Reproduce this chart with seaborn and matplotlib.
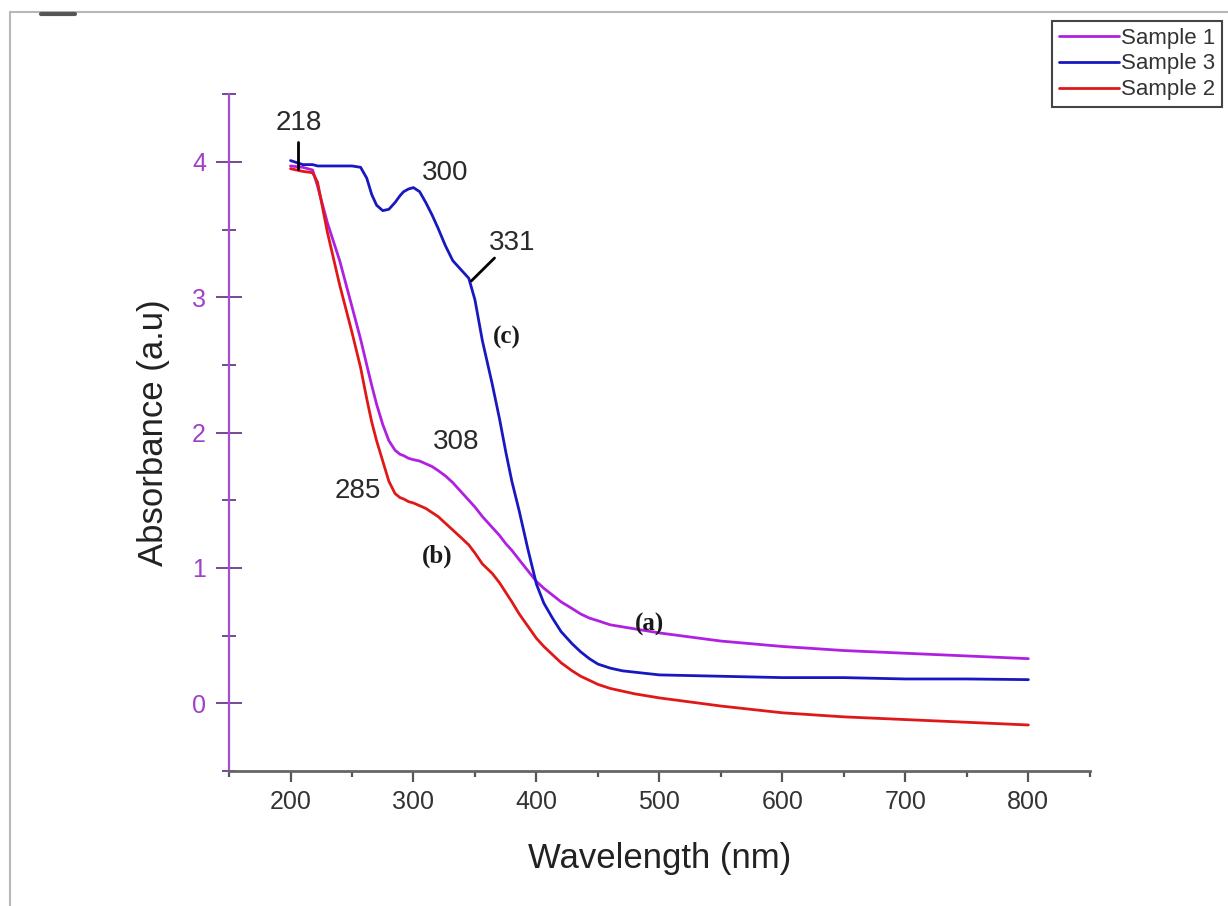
import matplotlib
matplotlib.use('Agg')
import matplotlib.pyplot as plt
import matplotlib.lines as mlines
import pandas as pd
import seaborn as sns
from matplotlib.ticker import MultipleLocator

sns.set_style('ticks')
plt.rcParams['font.family'] = ['Liberation Sans', 'DejaVu Sans']

# Values
wavelength = [200, 210, 218, 222, 230, 240, 250, 257, 262, 266, 270, 275, 280, 285, 289,
              292, 296, 300, 305, 310, 315, 320, 326, 332, 338, 345, 350, 356, 364, 370,
              375, 380, 386, 393, 400, 406, 413, 420, 429, 436, 443, 450, 460, 470, 480,
              490, 500, 525, 550, 575, 600, 650, 700, 750, 800]
sample1 = [3.97, 3.96, 3.94, 3.82, 3.55, 3.27, 2.93, 2.69, 2.50, 2.35, 2.21, 2.06, 1.94, 1.87, 1.84,
           1.83, 1.81, 1.80, 1.79, 1.77, 1.75, 1.72, 1.68, 1.63, 1.57, 1.50, 1.45, 1.38, 1.30, 1.24,
           1.18, 1.13, 1.06, 0.98, 0.90, 0.85, 0.80, 0.75, 0.70, 0.66, 0.63, 0.61, 0.58, 0.565, 0.55,
           0.535, 0.52, 0.49, 0.46, 0.44, 0.42, 0.39, 0.37, 0.35, 0.33]
sample3 = [4.01, 3.98, 3.98, 3.97, 3.97, 3.97, 3.97, 3.96, 3.88, 3.76, 3.68, 3.64, 3.65, 3.70, 3.75,
           3.78, 3.80, 3.81, 3.78, 3.70, 3.61, 3.51, 3.38, 3.27, 3.21, 3.14, 2.98, 2.68, 2.36, 2.10,
           1.86, 1.64, 1.42, 1.14, 0.88, 0.74, 0.63, 0.53, 0.44, 0.38, 0.33, 0.29, 0.26, 0.24, 0.23,
           0.22, 0.21, 0.205, 0.20, 0.195, 0.19, 0.19, 0.18, 0.18, 0.175]
sample2 = [3.95, 3.93, 3.92, 3.85, 3.48, 3.09, 2.74, 2.48, 2.25, 2.08, 1.94, 1.79, 1.64, 1.55, 1.52,
           1.51, 1.49, 1.48, 1.46, 1.44, 1.41, 1.38, 1.33, 1.28, 1.23, 1.17, 1.11, 1.03, 0.96, 0.89,
           0.82, 0.75, 0.66, 0.57, 0.48, 0.42, 0.36, 0.30, 0.24, 0.20, 0.17, 0.14, 0.11, 0.09, 0.07,
           0.055, 0.04, 0.01, -0.02, -0.045, -0.07, -0.10, -0.12, -0.14, -0.16]

df = pd.concat([
    pd.DataFrame({'Wavelength': wavelength, 'Absorbance': sample1, 'Sample': 'Sample 1'}),
    pd.DataFrame({'Wavelength': wavelength, 'Absorbance': sample3, 'Sample': 'Sample 3'}),
    pd.DataFrame({'Wavelength': wavelength, 'Absorbance': sample2, 'Sample': 'Sample 2'}),
])
order = ['Sample 1', 'Sample 3', 'Sample 2']
colors = {'Sample 1': '#b020e0', 'Sample 3': '#1818c0', 'Sample 2': '#e01818'}

fig = plt.figure(figsize=(12.28, 9.06), dpi=100)
ax = fig.add_axes([0.1865, 0.149, 0.701, 0.747])
sns.lineplot(data=df, x='Wavelength', y='Absorbance', hue='Sample', hue_order=order,
             palette=colors, linewidth=2, sort=False, ax=ax)
for ln in ax.get_lines():
    ln.set_solid_joinstyle('round')

ax.set_xlim(150, 850)
ax.set_ylim(-0.5, 4.5)
ax.xaxis.set_major_locator(MultipleLocator(100))
ax.xaxis.set_minor_locator(MultipleLocator(50))
ax.yaxis.set_major_locator(MultipleLocator(1))
ax.yaxis.set_minor_locator(MultipleLocator(0.5))
ax.set_xticks(range(200, 801, 100))

for s in ['top', 'right']:
    ax.spines[s].set_visible(False)
ax.spines['left'].set_color('#a050d0')
ax.spines['left'].set_linewidth(1.6)
ax.spines['bottom'].set_color('#666666')
ax.spines['bottom'].set_linewidth(2)

ax.tick_params(axis='y', which='major', direction='inout', length=19, width=1.3,
               color='#6a3a8a', labelcolor='#a040c8', labelsize=18, pad=7)
ax.tick_params(axis='y', which='minor', direction='inout', length=9.5, width=1.3,
               color='#6a3a8a')
ax.tick_params(axis='x', which='major', direction='out', length=8, width=1.6,
               color='#555555', labelcolor='#333333', labelsize=18, pad=6)
ax.tick_params(axis='x', which='minor', direction='out', length=4, width=1.6,
               color='#555555')

ax.set_xlabel('Wavelength (nm)', fontsize=25, color='#222222', labelpad=20)
ax.set_ylabel('Absorbance (a.u)', fontsize=25, color='#222222', labelpad=16)

# peak annotations
num = dict(fontsize=20, color='#2a2a2a', ha='center', va='center')
ax.text(206.5, 4.29, '218', **num)
ax.plot([205.9, 205.9], [4.15, 3.95], color='black', lw=2)
ax.text(325.4, 3.92, '300', **num)
ax.text(380.4, 3.40, '331', **num)
ax.plot([365.9, 347], [3.29, 3.12], color='black', lw=2)
ax.text(335, 1.93, '308', **num)
ax.text(255, 1.57, '285', **num)

lab = dict(fontsize=18, fontweight='bold', color='#1a1a1a', ha='center', va='center',
           family=['Liberation Serif', 'DejaVu Serif'])
ax.text(375.6, 2.70, '(c)', **lab)
ax.text(319, 1.09, '(b)', **lab)
ax.text(492, 0.58, '(a)', **lab)

leg = ax.legend(title=None, loc='upper right', bbox_to_anchor=(0.995, 0.977),
                bbox_transform=fig.transFigure, fontsize=16, frameon=True,
                fancybox=False, edgecolor='#444444', framealpha=1,
                handlelength=2.7, handletextpad=0.1, borderpad=0.3,
                labelspacing=0.22, borderaxespad=0)
leg.get_frame().set_linewidth(1.5)
for t in leg.get_texts():
    t.set_color('#333333')

# thin frame around the whole picture, as in the screenshot
fig.add_artist(mlines.Line2D([0.008, 0.008], [0.0, 0.987], color='#b8b8b8', lw=1.5,
                             transform=fig.transFigure))
fig.add_artist(mlines.Line2D([0.008, 1.0], [0.987, 0.987], color='#b8b8b8', lw=1.5,
                             transform=fig.transFigure))
fig.add_artist(mlines.Line2D([0.033, 0.061], [0.985, 0.985], color='#555555', lw=3,
                             transform=fig.transFigure))

fig.savefig('out.png', dpi=100)
